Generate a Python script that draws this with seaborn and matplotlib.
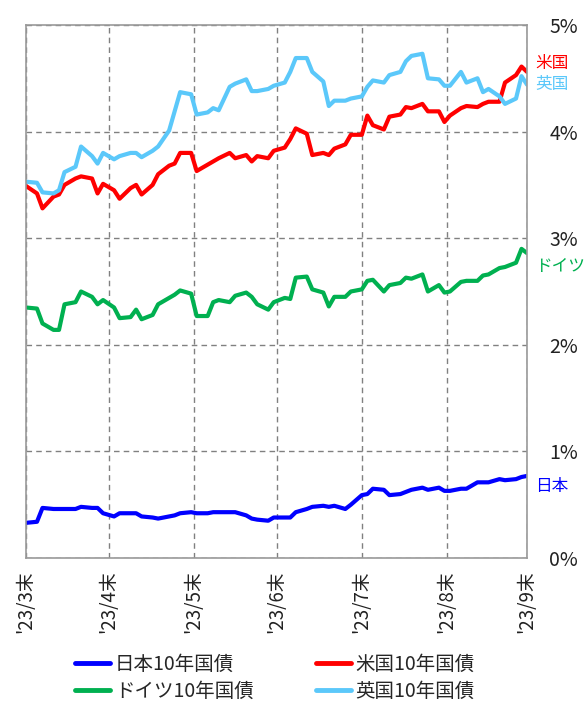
import numpy as np
import pandas as pd
import matplotlib.pyplot as plt
import matplotlib.dates as mdates
import matplotlib.transforms as mtransforms
import seaborn as sns

sns.set_style('white')
plt.rcParams['font.family'] = ['Noto Sans CJK JP', 'DejaVu Sans']

# every 2nd business day, 2023/3/31 - 2023/9/29
dates = pd.bdate_range('2023-03-31', '2023-09-29')[::2]

japan = [0.33, 0.34, 0.47, 0.46, 0.46, 0.46, 0.46, 0.48, 0.47, 0.47,
         0.42, 0.39, 0.42, 0.42, 0.42, 0.39, 0.38, 0.37, 0.39, 0.40,
         0.42, 0.43, 0.42, 0.42, 0.43, 0.43, 0.43, 0.43, 0.40, 0.37,
         0.36, 0.35, 0.38, 0.38, 0.38, 0.43, 0.46, 0.48, 0.49, 0.48,
         0.49, 0.46, 0.50, 0.59, 0.60, 0.65, 0.64, 0.59, 0.60, 0.62,
         0.64, 0.66, 0.64, 0.66, 0.63, 0.63, 0.65, 0.65, 0.71, 0.71,
         0.71, 0.74, 0.73, 0.74, 0.76, 0.77]
us = [3.49, 3.42, 3.28, 3.39, 3.41, 3.50, 3.56, 3.58, 3.56, 3.42,
      3.51, 3.45, 3.37, 3.47, 3.50, 3.41, 3.50, 3.60, 3.68, 3.70,
      3.80, 3.80, 3.63, 3.69, 3.72, 3.75, 3.80, 3.75, 3.78, 3.72,
      3.77, 3.75, 3.82, 3.85, 3.93, 4.03, 3.98, 3.78, 3.80, 3.78,
      3.84, 3.88, 3.97, 3.97, 4.15, 4.06, 4.02, 4.14, 4.16, 4.23,
      4.22, 4.26, 4.19, 4.19, 4.09, 4.15, 4.22, 4.24, 4.23, 4.26,
      4.28, 4.28, 4.46, 4.53, 4.61, 4.56]
germany = [2.35, 2.34, 2.20, 2.14, 2.14, 2.38, 2.40, 2.50, 2.45, 2.38,
           2.42, 2.35, 2.25, 2.26, 2.33, 2.24, 2.28, 2.38, 2.44, 2.47,
           2.51, 2.48, 2.27, 2.27, 2.40, 2.42, 2.40, 2.46, 2.49, 2.45,
           2.38, 2.33, 2.40, 2.44, 2.43, 2.63, 2.64, 2.52, 2.49, 2.36,
           2.45, 2.45, 2.50, 2.52, 2.60, 2.61, 2.50, 2.56, 2.58, 2.63,
           2.62, 2.66, 2.50, 2.56, 2.49, 2.50, 2.59, 2.60, 2.60, 2.65,
           2.66, 2.72, 2.73, 2.77, 2.90, 2.86]
uk = [3.53, 3.52, 3.43, 3.42, 3.45, 3.62, 3.67, 3.86, 3.77, 3.70,
      3.80, 3.74, 3.77, 3.80, 3.80, 3.76, 3.82, 3.86, 4.01, 4.19,
      4.37, 4.35, 4.16, 4.18, 4.22, 4.20, 4.42, 4.45, 4.49, 4.38,
      4.38, 4.40, 4.43, 4.46, 4.56, 4.69, 4.69, 4.56, 4.47, 4.24,
      4.29, 4.29, 4.31, 4.33, 4.42, 4.48, 4.46, 4.53, 4.56, 4.66,
      4.71, 4.73, 4.50, 4.49, 4.43, 4.43, 4.56, 4.46, 4.50, 4.37,
      4.40, 4.33, 4.26, 4.31, 4.52, 4.44]

series = ['日本10年国債', '米国10年国債', 'ドイツ10年国債', '英国10年国債']
colors = ['#0000FF', '#FF0000', '#00B050', '#5BC8FA']
end_labels = ['日本', '米国', 'ドイツ', '英国']
end_label_y = [0.67, 4.64, 2.73, 4.44]

tick_dates = pd.to_datetime(['2023-03-31', '2023-04-30', '2023-05-31', '2023-06-30',
                             '2023-07-31', '2023-08-31', '2023-09-29'])
tick_labels = ["'23/3末", "'23/4末", "'23/5末", "'23/6末", "'23/7末", "'23/8末", "'23/9末"]

df = pd.DataFrame({'date': dates, series[0]: japan, series[1]: us,
                   series[2]: germany, series[3]: uk})
df_long = df.melt(id_vars='date', var_name='series', value_name='yield')

fig = plt.figure(figsize=(5.85, 7.06), dpi=100)
ax = fig.add_axes([0.0444, 0.2096, 0.8565, 0.755])

sns.lineplot(data=df_long, x='date', y='yield', hue='series', hue_order=series,
             palette=colors, linewidth=3, ax=ax, legend=False)

ax.set_xlim(dates[0], dates[-1])
ax.set_ylim(0, 5)
ax.set_xticks(tick_dates)
ax.set_xticklabels(tick_labels, rotation=90, fontsize=13.5)
ax.set_yticks([0, 1, 2, 3, 4, 5])
ax.set_yticklabels([f'{v}%' for v in range(6)], fontsize=14)
ax.yaxis.tick_right()
ax.tick_params(axis='y', length=0, pad=16, colors='#222222')
ax.tick_params(axis='x', length=0, pad=9, colors='#222222')
ax.set_xlabel('')
ax.set_ylabel('')
ax.grid(True, linestyle=(0, (4, 3)), color='#808080', linewidth=1)
for s in ax.spines.values():
    s.set_color('#999999')
    s.set_linewidth(1.2)

trans = mtransforms.blended_transform_factory(ax.transAxes, ax.transData)
for lab, yv, c in zip(end_labels, end_label_y, colors):
    ax.text(1.016, yv, lab, color=c, fontsize=12, ha='left', va='center',
            transform=trans, clip_on=False)

handles = [plt.Line2D([], [], color=c, linewidth=3.5) for c in colors]
order = [0, 2, 1, 3]
fig.legend([handles[i] for i in order], [series[i] for i in order],
           loc='center', bbox_to_anchor=(0.47, 0.04), ncol=2, frameon=False,
           fontsize=14, handlelength=1.8, handletextpad=0.25,
           columnspacing=3.2, labelspacing=0.35)

plt.savefig('out.png', dpi=100)
